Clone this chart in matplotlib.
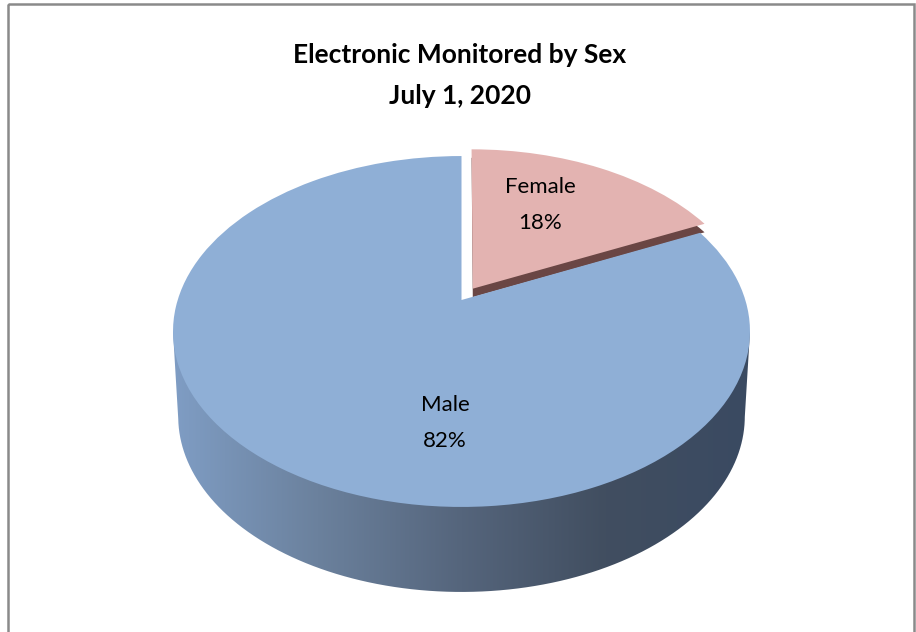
import numpy as np
import matplotlib
matplotlib.use("Agg")
import matplotlib.pyplot as plt
from matplotlib.colors import LinearSegmentedColormap
from matplotlib.patches import PathPatch, Rectangle
from matplotlib.path import Path
from matplotlib.transforms import Affine2D, Transform

title_lines = ["Electronic Monitored by Sex", "July 1, 2020"]
categories = ["Female", "Male"]
shares = [18, 82]
explode_amounts = [0.055, 0.0]
top_colors = ["#E3B3B1", "#8FAFD6"]
side_stops = ["#7F9DC4", "#6B819D", "#55657C", "#414E60", "#3A4A62"]

W, H = 916, 632
CX, CY = 461.5, 300.0
A, B, K = 283.8, 169.8, 0.1795


class Perspective(Transform):
    input_dims = 2
    output_dims = 2
    is_separable = False
    has_inverse = False

    def transform_non_affine(self, values):
        v = np.asarray(values, dtype=float)
        w = 1 + K * v[:, 1]
        return np.column_stack([CX + A * v[:, 0] / w, CY - B * v[:, 1] / w])


plt.rcParams["font.family"] = ["Lato", "DejaVu Sans"]
fig = plt.figure(figsize=(W / 100, H / 100), dpi=100, facecolor="white")
ax = fig.add_axes([0, 0, 1, 1])

wedges, _ = ax.pie(shares, explode=explode_amounts, startangle=90,
                   counterclock=False, colors=top_colors, frame=False)
ax.set_aspect("auto")
ax.set_xlim(0, W)
ax.set_ylim(H, 0)
ax.axis("off")

persp = Perspective()
wedges[0].set_radius(0.98)
wedges[0].set_transform(persp + Affine2D().translate(3, -3.5) + ax.transData)
wedges[1].set_transform(persp + ax.transData)
for w in wedges:
    w.set_linewidth(0)
wedges[0].set_zorder(6)
wedges[1].set_zorder(5)

# cut face of the pulled-out slice
female_path = wedges[0].get_patch_transform().transform_path(wedges[0].get_path())
ax.add_patch(PathPatch(female_path, facecolor="#6A4644", linewidth=0, zorder=4,
                       transform=persp + Affine2D().translate(3, 5) + ax.transData))

# extruded side of the disc, shaded left to right
t = np.linspace(0, 2 * np.pi, 721)
rim = persp.transform_non_affine(np.column_stack([np.cos(t), np.sin(t)]))
lower = rim[rim[:, 1] >= CY + 31.5]
lower = lower[np.argsort(lower[:, 0])]
bottom = lower.copy()
bottom[:, 0] = CX + (bottom[:, 0] - CX) * 0.982
bottom[:, 1] += 85
outline = np.vstack([lower[:1], bottom, lower[-1:]])
side_clip = PathPatch(Path(outline), transform=ax.transData, facecolor="none", linewidth=0)
ax.add_patch(side_clip)
cmap = LinearSegmentedColormap.from_list("side", side_stops)
grad = ax.imshow(np.linspace(0, 1, 256)[None, :], cmap=cmap, aspect="auto",
                 extent=(173, 750, 600, 320), zorder=3)
grad.set_clip_path(side_clip)
ax.set_xlim(0, W)
ax.set_ylim(H, 0)

# frame
ax.add_patch(Rectangle((8, 4), 906, 660, facecolor="none", edgecolor="#8A8A8A",
                       linewidth=1.8, zorder=1, clip_on=False))

ax.text(460, 55, title_lines[0], ha="center", va="center", fontsize=19,
        fontweight="bold", color="black", zorder=8)
ax.text(460, 96, title_lines[1], ha="center", va="center", fontsize=19,
        fontweight="bold", color="black", zorder=8)

label_xy = {"Female": (540, 205), "Male": (445, 423)}
for name, share in zip(categories, shares):
    x, y = label_xy[name]
    ax.text(x, y, f"{name}\n{share}%", ha="center", va="center", fontsize=16,
            color="black", linespacing=2.0, zorder=8)

fig.savefig("out.png", dpi=100)
